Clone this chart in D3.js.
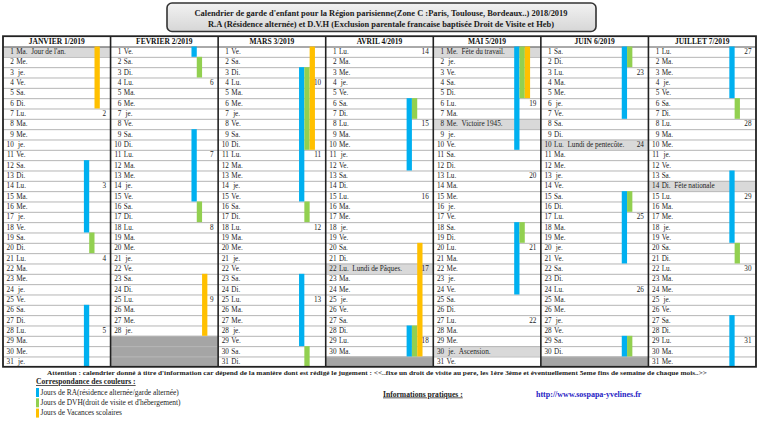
<!DOCTYPE html>
<html><head><meta charset="utf-8">
<script src="https://cdn.jsdelivr.net/npm/d3@7"></script>
<style>body{margin:0;background:#fff}svg{display:block}</style>
</head><body>
<svg id="c" width="760" height="421"></svg>
<script>
const titleLines = ["Calendrier de garde d'enfant pour la Région parisienne(Zone C :Paris, Toulouse, Bordeaux..) 2018/2019",
  "R.A (Résidence alternée) et D.V.H (Exclusion parentale francaise baptisée Droit de Visite et Heb)"];
const months = ["JANVIER 1/2019","FEVRIER 2/2019","MARS 3/2019","AVRIL 4/2019","MAI 5/2019","JUIN 6/2019","JUILLET 7/2019"];
const monthDays = [31,28,31,30,31,30,31];
const weekdayLabels = ["Di.","Lu.","Ma.","Me.","\u00a0je.","Ve.","Sa."];
const holidays = [[0,1,"Jour de l'an."],[3,22,"Lundi de Pâques."],[4,1,"Fête du travail."],[4,8,"Victoire 1945."],[4,30,"Ascension."],[5,10,"Lundi de pentecôte."],[6,14,"Fête nationale"]];
// [monthIndex, firstDay, lastDay]
const raPeriods = [[0,12,18],[0,26,31],[1,1,1],[1,9,15],[2,3,15],[2,23,29],[3,6,12],[3,28,30],[4,1,10],[4,18,24],[5,1,7],[5,15,21],[5,29,30],[6,1,5],[6,13,19],[6,27,31]];
const dvhPeriods = [[0,19,20],[1,2,3],[1,16,17],[2,3,10],[2,16,17],[2,30,31],[3,6,7],[3,28,30],[4,1,5],[4,18,19],[5,1,2],[5,15,16],[5,29,30],[6,6,7],[6,20,21]];
const vacPeriods = [[0,1,6],[1,23,28],[2,1,10],[3,20,30],[4,1,5]];
const legendLabels = ["Jours de RA(résidence alternée/garde alternée)","Jours de DVH(droit de visite et d'hébergement)","Jours de Vacances scolaires"];
const noteText = "Attention : calendrier donné à titre d'information car dépend de la manière dont est rédigé le jugement : <<..fixe un droit de visite au pere, les 1ère 3ème et éventuellement 5eme fins de semaine de chaque mois..>>";

const FONT = "'Liberation Serif','Times New Roman',serif";
const colors = {RA:"#00b0f0", DVH:"#92d050", VAC:"#ffc000"};
const svg = d3.select("#c").attr("font-family", FONT);

const days = d3.range(1, 32);
const x = d3.scaleBand().domain(d3.range(7)).range([3, 756]);
const y = d3.scaleBand().domain(days).range([46.5, 366.8]);
const lane = d3.scaleBand().domain(["RA","DVH","VAC"]).range([80.9, 96.8]);
const headerTop = 36.2, rowH = y.bandwidth();

// Title box
const defs = svg.append("defs");
const g = defs.append("linearGradient").attr("id","tg").attr("x1",0).attr("y1",0).attr("x2",0).attr("y2",1);
g.append("stop").attr("offset","0").attr("stop-color","#f2f2f2");
g.append("stop").attr("offset","1").attr("stop-color","#d6d6d6");
svg.append("rect").attr("x",167).attr("y",3).attr("width",429).attr("height",28.5).attr("rx",5)
  .attr("fill","url(#tg)").attr("stroke","#333").attr("stroke-width",1.6);
svg.selectAll("text.title").data(titleLines).join("text").attr("class","title")
  .attr("x",381).attr("y",(d,i)=>15.5+i*11).attr("text-anchor","middle")
  .attr("font-size",8.4).attr("font-weight","bold").attr("fill","#1a1a1a")
  .attr("textLength",(d,i)=>i?346:373).attr("lengthAdjust","spacingAndGlyphs").text(d=>d);

// Cells
const cells = [];
months.forEach((m,mi)=>{ days.forEach(d=>{ cells.push({mi,d,valid:d<=monthDays[mi]}); }); });
const hol = new Map(holidays.map(h=>[h[0]+"-"+h[1],h[2]]));

// Backgrounds
svg.append("g").selectAll("rect").data(cells.filter(c=>!c.valid)).join("rect")
  .attr("x",c=>x(c.mi)).attr("y",c=>y(c.d)).attr("width",x.bandwidth()).attr("height",rowH+0.3).attr("fill","#a5a5a5");
svg.append("g").selectAll("rect").data(holidays).join("rect")
  .attr("x",h=>x(h[0])).attr("y",h=>y(h[1])).attr("width",x.bandwidth()).attr("height",rowH).attr("fill","#d9d9d9");

// Row lines
svg.append("g").selectAll("line").data(days.slice(1).concat([1])).join("line")
  .attr("x1",3).attr("x2",756).attr("y1",d=>y(d)+0.5).attr("y2",d=>y(d)+0.5)
  .attr("stroke",d=>d===1?"#555":"#b5b5b5").attr("stroke-width",1);

// Bars
const series = [["RA",raPeriods],["DVH",dvhPeriods],["VAC",vacPeriods]];
series.forEach(([k,arr])=>{
  svg.append("g").selectAll("rect").data(arr).join("rect")
    .attr("x",p=>x(p[0])+lane(k)).attr("width",lane.bandwidth())
    .attr("y",p=>y(p[1])).attr("height",p=>y(p[2])+rowH-y(p[1]))
    .attr("fill",colors[k]);
});

// Headers
svg.append("g").selectAll("text").data(months).join("text")
  .attr("x",(d,i)=>x(i)+x.bandwidth()/2).attr("y",headerTop+rowH/2+2.7)
  .attr("text-anchor","middle").attr("font-size",7.5).attr("font-weight","bold").attr("fill","#111").text(d=>d);

// Day texts
const valid = cells.filter(c=>c.valid);
const wk = d3.timeFormat("%V");
const tg = svg.append("g").attr("font-size",7.2).attr("fill","#222");
tg.selectAll("text.n").data(valid).join("text").attr("class","n")
  .attr("x",c=>x(c.mi)+10.8).attr("y",c=>y(c.d)+rowH/2+2.5).attr("text-anchor","end").text(c=>c.d);
tg.selectAll("text.w").data(valid).join("text").attr("class","w")
  .attr("x",c=>x(c.mi)+13.2).attr("y",c=>y(c.d)+rowH/2+2.5)
  .text(c=>{ const wd=weekdayLabels[new Date(2019,c.mi,c.d).getDay()]; const h=hol.get(c.mi+"-"+c.d); return h? wd+"\u00a0\u00a0"+h : wd; });
tg.selectAll("text.k").data(valid.filter(c=>new Date(2019,c.mi,c.d).getDay()===1)).join("text").attr("class","k")
  .attr("x",c=>x(c.mi)+x.bandwidth()-4.5).attr("y",c=>y(c.d)+rowH/2+2.5).attr("text-anchor","end")
  .text(c=>+wk(new Date(2019,c.mi,c.d)));

// Column borders & outer frame
svg.append("g").selectAll("line").data(d3.range(1,7)).join("line")
  .attr("x1",i=>x(i)).attr("x2",i=>x(i)).attr("y1",headerTop).attr("y2",366.8)
  .attr("stroke","#222").attr("stroke-width",1.6);
svg.append("rect").attr("x",3).attr("y",headerTop).attr("width",753).attr("height",366.8-headerTop)
  .attr("fill","none").attr("stroke","#222").attr("stroke-width",1.8);

// Footer
svg.append("text").attr("x",47).attr("y",375).attr("font-size",7).attr("font-weight","bold").attr("fill","#222")
  .attr("textLength",660).attr("lengthAdjust","spacingAndGlyphs").text(noteText);
svg.append("text").attr("x",36).attr("y",384).attr("font-size",7.6).attr("font-weight","bold").attr("fill","#222")
  .attr("text-decoration","underline").text("Correspondance des couleurs :");
const lk = ["RA","DVH","VAC"];
svg.append("g").selectAll("rect").data(lk).join("rect")
  .attr("x",36).attr("y",(d,i)=>388+i*10.3).attr("width",3).attr("height",9).attr("fill",d=>colors[d]);
svg.append("g").selectAll("text").data(legendLabels).join("text")
  .attr("x",40.5).attr("y",(d,i)=>394.5+i*10.3).attr("font-size",7.4).attr("fill","#222").text(d=>d);
svg.append("text").attr("x",383).attr("y",396.5).attr("font-size",7.6).attr("font-weight","bold").attr("fill","#222")
  .attr("text-decoration","underline").text("Informations pratiques :");
svg.append("text").attr("x",536).attr("y",396.5).attr("font-size",8).attr("font-weight","bold").attr("fill","#1f23c4")
  .text("http://www.sospapa-yvelines.fr");
</script>
</body></html>
